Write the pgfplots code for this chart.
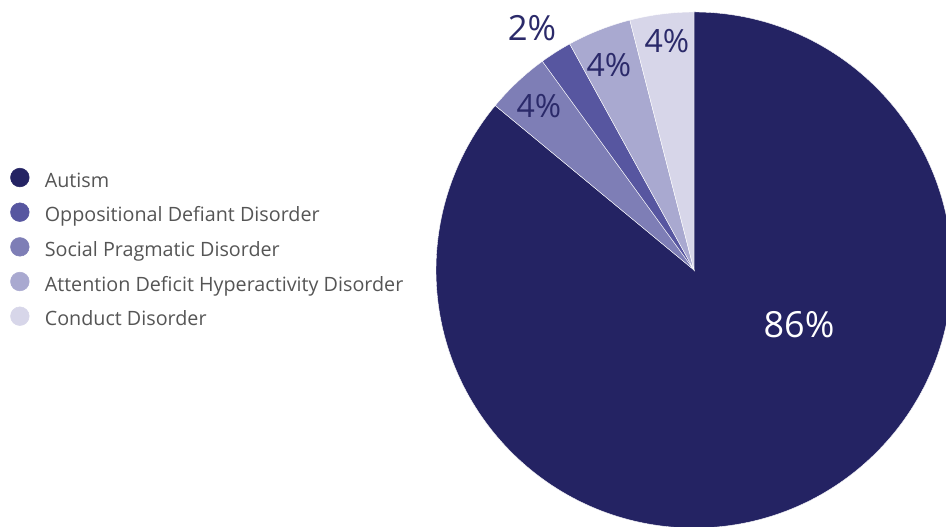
\documentclass[border=0pt]{standalone}
\usepackage{pgfplots}
\usepackage{pgfplotstable}
\pgfplotsset{compat=1.18}
\usepackage{fontspec}
\setmainfont{Open Sans}
\definecolor{cA}{HTML}{242363}
\definecolor{cB}{HTML}{5756A0}
\definecolor{cC}{HTML}{7E7EB6}
\definecolor{cD}{HTML}{A9A9D0}
\definecolor{cE}{HTML}{D7D6E9}
\definecolor{lbl}{HTML}{2B2A6A}
\definecolor{leg}{HTML}{555555}

% slices clockwise from 12 o'clock
\pgfplotstableread{
name value col
Autism 86 cA
Social 4 cC
Oppositional 2 cB
ADHD 4 cD
Conduct 4 cE
}\piedata

\def\startangle{90}
\def\slicecmds{}
\pgfplotsforeachungrouped \i in {0,...,4}{%
  \pgfplotstablegetelem{\i}{value}\of\piedata \let\sliceval\pgfplotsretval
  \pgfplotstablegetelem{\i}{col}\of\piedata \let\slicecol\pgfplotsretval
  \pgfmathsetmacro\endangle{\startangle - 3.6*\sliceval}%
  \edef\slicecmds{\slicecmds \noexpand\fill[\slicecol, draw=white, line width=0.3pt] (axis cs:694,257) -- ++(\startangle:193.5pt) arc[start angle=\startangle, end angle=\endangle, radius=193.5pt] -- cycle;}%
  \global\let\startangle\endangle
}

\begin{document}
\begin{tikzpicture}
\begin{axis}[
  scale only axis, width=709.5pt, height=395.25pt,
  xmin=0, xmax=946, ymin=0, ymax=527,
  hide axis, clip=true,
  legend style={at={(axis cs:6,362)}, anchor=north west, draw=none, fill=none,
    font=\fontsize{14.8}{17}\selectfont, text=leg, row sep=8.6pt,
    nodes={text height=10pt, text depth=3pt, inner sep=0pt},
    cells={anchor=west}},
  legend image code/.code={\fill[#1] (10pt,0.13cm) circle (7pt);},
  legend columns=1,
]
\slicecmds
\addlegendimage{cA}\addlegendentry{\hspace{11.5pt}Autism}
\addlegendimage{cB}\addlegendentry{\hspace{11.5pt}Oppositional Defiant Disorder}
\addlegendimage{cC}\addlegendentry{\hspace{11.5pt}Social Pragmatic Disorder}
\addlegendimage{cD}\addlegendentry{\hspace{11.5pt}Attention Deficit Hyperactivity Disorder}
\addlegendimage{cE}\addlegendentry{\hspace{11.5pt}Conduct Disorder}
\node[text=white, font=\fontsize{27}{30}\selectfont] at (axis cs:799,202) {86\%};
\node[text=lbl, font=\fontsize{26}{30}\selectfont] at (axis cs:532,499) {2\%};
\node[text=lbl, font=\fontsize{24}{28}\selectfont] at (axis cs:539,421) {4\%};
\node[text=lbl, font=\fontsize{24}{28}\selectfont] at (axis cs:609,462) {4\%};
\node[text=lbl, font=\fontsize{24}{28}\selectfont] at (axis cs:667,486) {4\%};
\end{axis}
\pgfresetboundingbox
\useasboundingbox (current axis.south west) rectangle (current axis.north east);
\end{tikzpicture}
\end{document}
